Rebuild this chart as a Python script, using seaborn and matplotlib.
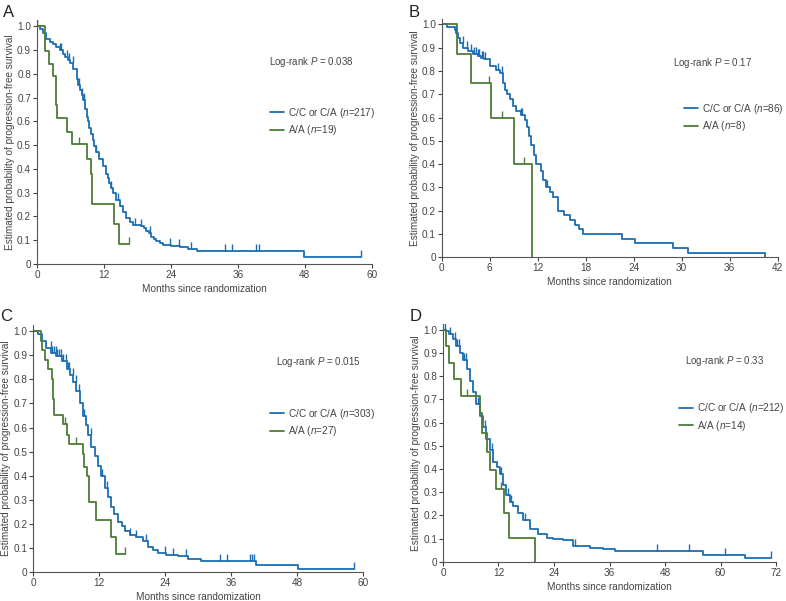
import numpy as np
import seaborn as sns
import matplotlib.pyplot as plt

# Kaplan-Meier curves: (time of drop, survival after drop)
# Panel A
a_cc_t = [0, 0.5, 1.1, 1.7, 2.3, 2.9, 3.5, 4.1, 4.6, 5.0, 5.5, 5.9, 6.5, 7.1, 7.4, 7.7, 8.0, 8.3, 8.7, 9.0,
          9.2, 9.4, 9.7, 10.0, 10.3, 10.6, 11.2, 11.8, 12.4, 12.7, 13.0, 13.3, 13.6, 14.2, 14.8, 15.4, 16.0,
          16.6, 17.2, 18.7, 19.2, 19.6, 20.0, 20.5, 21.0, 21.4, 22.0, 22.6, 24.1, 25.6, 27.0, 28.6, 47.8, 58.1]
a_cc_s = [1.0, 0.99, 0.97, 0.945, 0.935, 0.925, 0.913, 0.90, 0.885, 0.87, 0.857, 0.845, 0.82, 0.78, 0.755,
          0.73, 0.71, 0.69, 0.65, 0.62, 0.60, 0.57, 0.545, 0.52, 0.495, 0.47, 0.44, 0.41, 0.38, 0.36, 0.34,
          0.32, 0.30, 0.27, 0.245, 0.22, 0.195, 0.175, 0.165, 0.16, 0.15, 0.14, 0.128, 0.115, 0.105, 0.095,
          0.087, 0.08, 0.075, 0.07, 0.063, 0.056, 0.028, 0.028]
a_cc_cens = [4.1, 4.4, 5.3, 5.8, 6.4, 7.5, 8.1, 8.5, 10.6, 13.3, 14.6, 17.5, 18.7, 20.2, 23.8, 25.4, 27.6,
             33.7, 34.9, 39.2, 39.8, 58.1]
a_aa_t = [0, 1.4, 2.1, 2.9, 3.4, 3.6, 5.4, 6.2, 9.0, 9.6, 9.9, 13.8, 14.7, 16.5]
a_aa_s = [1.0, 0.895, 0.842, 0.789, 0.67, 0.614, 0.557, 0.506, 0.44, 0.38, 0.253, 0.168, 0.084, 0.084]
a_aa_cens = [0, 7.5, 16.5]

# Panel B
b_cc_t = [0, 0.6, 1.6, 1.8, 2.0, 2.3, 2.7, 3.3, 3.9, 4.5, 4.9, 5.3, 6.0, 6.8, 7.3, 7.7, 7.9, 8.2, 8.5, 8.9,
          9.3, 9.9, 10.4, 10.6, 10.9, 11.2, 11.5, 11.8, 12.4, 12.7, 13.0, 13.5, 13.9, 14.5, 15.3, 16.0, 16.6,
          17.2, 17.7, 22.5, 24.1, 28.9, 30.8, 40.4]
b_cc_s = [1.0, 0.99, 0.977, 0.965, 0.94, 0.92, 0.90, 0.885, 0.875, 0.865, 0.855, 0.85, 0.82, 0.805, 0.79,
          0.75, 0.72, 0.70, 0.68, 0.65, 0.63, 0.61, 0.59, 0.56, 0.52, 0.48, 0.44, 0.40, 0.37, 0.33, 0.30,
          0.28, 0.26, 0.20, 0.18, 0.16, 0.14, 0.12, 0.10, 0.08, 0.06, 0.04, 0.02, 0.0]
b_cc_cens = [1.8, 2.6, 3.2, 3.6, 4.0, 4.3, 4.5, 4.7, 5.0, 5.2, 5.4, 7.0, 7.5, 9.9, 10.0, 13.2]
b_aa_t = [0, 1.9, 3.7, 6.1, 9.0, 11.3]
b_aa_s = [1.0, 0.875, 0.75, 0.60, 0.40, 0.0]
b_aa_cens = [5.9, 7.5, 10.3]

# Panel C
c_cc_t = [0, 0.9, 1.7, 2.4, 3.3, 4.2, 5.2, 6.1, 6.7, 7.3, 7.9, 8.5, 9.1, 9.6, 10.0, 10.6, 11.2, 11.8, 12.4,
          13.0, 13.6, 14.2, 14.8, 15.5, 16.1, 16.7, 17.6, 18.8, 20.0, 20.9, 21.8, 22.7, 24.2, 26.4, 28.2,
          30.6, 40.5, 48.1, 58.3]
c_cc_s = [1.0, 0.99, 0.96, 0.93, 0.91, 0.895, 0.875, 0.845, 0.82, 0.79, 0.75, 0.70, 0.65, 0.61, 0.57, 0.52,
          0.48, 0.44, 0.40, 0.35, 0.31, 0.27, 0.24, 0.21, 0.19, 0.17, 0.155, 0.145, 0.13, 0.105, 0.09, 0.08,
          0.07, 0.065, 0.055, 0.045, 0.03, 0.015, 0.015]
c_cc_cens = [3.2, 3.5, 3.8, 4.1, 4.4, 4.7, 5.0, 5.5, 6.0, 6.3, 6.6, 7.2, 7.8, 8.3, 9.2, 10.5, 12.5, 13.5,
             17.6, 18.8, 20.6, 23.9, 25.5, 27.8, 33.9, 35.2, 39.4, 39.8, 40.1, 58.3]
c_aa_t = [0, 1.5, 1.7, 2.1, 2.7, 3.5, 3.6, 3.8, 5.5, 6.2, 6.5, 9.0, 9.2, 9.8, 10.2, 11.4, 14.1, 15.0, 16.7]
c_aa_s = [1.0, 0.96, 0.92, 0.88, 0.845, 0.80, 0.72, 0.652, 0.615, 0.57, 0.53, 0.49, 0.438, 0.40, 0.29,
          0.217, 0.145, 0.075, 0.075]
c_aa_cens = [5.9, 7.8, 16.7]

# Panel D
d_cc_t = [0, 0.7, 1.4, 2.2, 2.9, 3.6, 4.3, 5.1, 5.8, 6.5, 7.2, 7.9, 8.7, 9.4, 10.1, 10.8, 11.6, 12.3, 13.0,
          13.7, 14.4, 15.2, 16.2, 17.3, 18.8, 20.6, 22.4, 23.8, 26.0, 28.2, 31.8, 34.7, 37.2, 56.2, 65.3, 71.0]
d_cc_s = [1.0, 0.995, 0.98, 0.96, 0.93, 0.90, 0.87, 0.83, 0.78, 0.73, 0.68, 0.63, 0.58, 0.53, 0.48, 0.43,
          0.41, 0.38, 0.33, 0.29, 0.26, 0.24, 0.21, 0.18, 0.14, 0.12, 0.105, 0.10, 0.095, 0.07, 0.06, 0.055,
          0.045, 0.03, 0.019, 0.019]
d_cc_cens = [0.5, 1.5, 2.5, 3.0, 3.5, 4.5, 5.0, 7.5, 9.0, 10.5, 12.5, 14.0, 14.6, 17.7, 28.5, 46.2, 53.2,
             61.0, 71.0]
d_aa_t = [0, 0.6, 1.4, 2.3, 3.8, 7.9, 8.4, 9.6, 10.1, 11.4, 13.1, 14.2, 19.9]
d_aa_s = [1.0, 0.928, 0.857, 0.786, 0.714, 0.64, 0.554, 0.475, 0.396, 0.315, 0.21, 0.105, 0.0]
d_aa_cens = [5.2, 12.6]

panel_letters = ["A", "B", "C", "D"]
n_cc = [217, 86, 303, 212]
n_aa = [19, 8, 27, 14]
p_values = ["0.038", "0.17", "0.015", "0.33"]
x_max = [60, 42, 60, 72]
x_step = [12, 6, 12, 12]
y_ticks = [0, 0.1, 0.2, 0.3, 0.4, 0.5, 0.6, 0.7, 0.8, 0.9, 1.0]
y_labels = ["0", "0.1", "0.2", "0.3", "0.4", "0.5", "0.6", "0.7", "0.8", "0.9", "1.0"]

BLUE = "#1d6db4"
GREEN = "#4d7c36"
GREY = "#444444"

sns.set_style("ticks")
plt.rcParams["font.family"] = ["Liberation Sans", "DejaVu Sans"]
plt.rcParams["mathtext.fontset"] = "custom"
plt.rcParams["mathtext.it"] = "Liberation Sans:italic"
plt.rcParams["mathtext.rm"] = "Liberation Sans"

fig = plt.figure(figsize=(7.86, 6.01), dpi=100)
# axes rectangles (figure fractions)
rects = [[0.047, 0.561, 0.426, 0.405],
         [0.562, 0.572, 0.4275, 0.397],
         [0.042, 0.048, 0.420, 0.411],
         [0.5636, 0.065, 0.4237, 0.396]]
text_pos = [(41.6, 0.85), (28.9, 0.836), (44.1, 0.873), (52.3, 0.866)]
leg_pos = [(0.685, 0.665), (0.708, 0.668), (0.705, 0.686), (0.696, 0.692)]
letter_pos = [(0.004, 0.980), (0.520, 0.980), (0.0, 0.474), (0.521, 0.474)]

curves = [(a_cc_t, a_cc_s, a_cc_cens, a_aa_t, a_aa_s, a_aa_cens),
          (b_cc_t, b_cc_s, b_cc_cens, b_aa_t, b_aa_s, b_aa_cens),
          (c_cc_t, c_cc_s, c_cc_cens, c_aa_t, c_aa_s, c_aa_cens),
          (d_cc_t, d_cc_s, d_cc_cens, d_aa_t, d_aa_s, d_aa_cens)]


def censor_y(t, s, cens):
    # survival value of the step curve at each censoring time
    t = np.asarray(t)
    s = np.asarray(s)
    idx = np.searchsorted(t, cens, side="right") - 1
    return s[idx]


for i, (cct, ccs, ccc, aat, aas, aac) in enumerate(curves):
    ax = fig.add_axes(rects[i])
    sns.lineplot(x=cct, y=ccs, drawstyle="steps-post", color=BLUE, lw=1.3, sort=False,
                 estimator=None, ax=ax, label="C/C or C/A ($\\it{n}$=%d)" % n_cc[i])
    sns.lineplot(x=aat, y=aas, drawstyle="steps-post", color=GREEN, lw=1.3, sort=False,
                 estimator=None, ax=ax, label="A/A ($\\it{n}$=%d)" % n_aa[i])
    ax.plot(ccc, censor_y(cct, ccs, ccc), ls="none", marker=2, ms=5, mew=1.0, color=BLUE)
    ax.plot(aac, censor_y(aat, aas, aac), ls="none", marker=2, ms=5, mew=1.0, color=GREEN)

    ax.set_xlim(0, x_max[i])
    ax.set_ylim(0, 1.025)
    ax.set_xticks(np.arange(0, x_max[i] + 1, x_step[i]))
    ax.set_yticks(y_ticks)
    ax.set_yticklabels(y_labels)
    ax.tick_params(labelsize=7.2, colors=GREY, length=3, width=0.8, pad=1.2)
    for sp in ["left", "bottom"]:
        ax.spines[sp].set_color("#555555")
        ax.spines[sp].set_linewidth(0.8)
    sns.despine(ax=ax)
    ax.set_xlabel("Months since randomization", fontsize=7.2, color=GREY, labelpad=3)
    ax.set_ylabel("Estimated probability of progression-free survival", fontsize=7.2, color=GREY,
                  labelpad=1.5)
    ax.text(text_pos[i][0], text_pos[i][1], "Log-rank $\\it{P}$ = " + p_values[i], fontsize=7.0,
            color=GREY, va="center")
    leg = ax.legend(loc="upper left", bbox_to_anchor=leg_pos[i], frameon=False, fontsize=7.2,
                    handlelength=1.4, handletextpad=0.4, labelspacing=0.35, borderaxespad=0)
    for txt in leg.get_texts():
        txt.set_color(GREY)
    fig.text(letter_pos[i][0], letter_pos[i][1], panel_letters[i], fontsize=12, color="#222222",
             va="center", ha="left")

plt.savefig("out.png", dpi=100)
plt.close()
